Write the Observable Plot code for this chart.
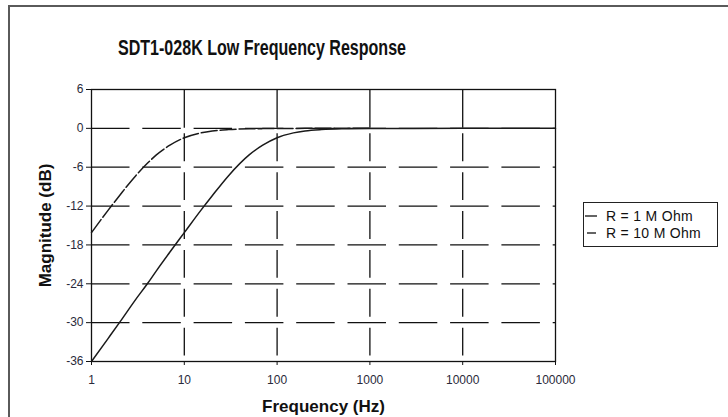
<!DOCTYPE html>
<html><head><meta charset="utf-8">
<script src="https://cdn.jsdelivr.net/npm/d3@7"></script>
<script src="https://cdn.jsdelivr.net/npm/@observablehq/plot@0.6"></script>
<style>
body{margin:0;background:#fff;font-family:"Liberation Sans",Arial,sans-serif;}
#wrap{position:relative;width:728px;height:417px;overflow:hidden;background:#fff;}
#frame{position:absolute;left:8px;top:5px;width:900px;height:600px;border-top:2px solid #5a5a5a;border-left:2px solid #5a5a5a;}
#chart{position:absolute;left:0;top:0;}
#title{position:absolute;left:0;top:35px;white-space:nowrap;font-weight:bold;font-size:22px;color:#111;transform-origin:0 0;}
#legend{position:absolute;left:583px;top:202px;width:133px;border:1.5px solid #222;background:#fff;padding:4px 0 4px 0;font-size:14px;letter-spacing:0.3px;color:#111;}
#legend .row{display:flex;align-items:center;height:17.5px;}
#legend svg{margin-left:1px;margin-right:9px;}
</style></head><body>
<div id="wrap"><div id="chart"></div><div id="frame"></div><div id="title"></div><div id="legend"></div></div>
<script>
const titleText = "SDT1-028K Low Frequency Response";
const xLabel = "Frequency (Hz)";
const yLabel = "Magnitude (dB)";
const seriesNames = ["R = 1 M Ohm", "R = 10 M Ohm"];
const xTicks = [1, 10, 100, 1000, 10000, 100000];
const yTicks = [6, 0, -6, -12, -18, -24, -30, -36];
const hGrid = [0, -6, -12, -18, -24, -30];
const vGrid = [10, 100, 1000, 10000];
// frequency points (Hz)
const freqHz = [1, 1.5, 2, 3, 4, 5, 7, 10, 15, 20, 30, 50, 70, 100, 150, 200, 300, 500, 1000];
// R = 10 M Ohm (left curve, dashed)
const r10M = [-16.1, -12.7, -10.4, -7.3, -5.4, -4.1, -2.6, -1.45, -0.7, -0.4, -0.19, -0.07, -0.04, -0.02, -0.01, 0, 0, 0, 0];
// R = 1 M Ohm (right curve, solid)
const r1M = [-36.0, -32.5, -30.0, -26.4, -24.0, -22.0, -19.1, -16.1, -12.7, -10.4, -7.3, -4.1, -2.6, -1.45, -0.7, -0.4, -0.19, -0.07, -0.02];
const r1MTailHz = [10000, 100000];
const r1MTail = [0, 0];

const W = 728, H = 417, mL = 91, mR = 728 - 555, mT = 89, mB = 417 - 361;
const yMin = -36, yMax = 6;
const step = (H - mT - mB) / (yMax - yMin) * 6; // px per 6 dB
const vGap = 11, vDash = step - vGap;

const d10 = freqHz.map((f, i) => ({f, db: r10M[i]}));
const d1 = freqHz.map((f, i) => ({f, db: r1M[i]})).concat(r1MTailHz.map((f, i) => ({f, db: r1MTail[i]})));

const ink = "#111";
const plot = Plot.plot({
  width: W, height: H,
  marginLeft: mL, marginRight: mR, marginTop: mT, marginBottom: mB,
  x: {type: "log", domain: [1, 100000]},
  y: {domain: [yMin, yMax]},
  style: {fontFamily: "'Liberation Sans', Arial, sans-serif", fontSize: "12px", color: "#2a2a3a", background: "transparent"},
  marks: [
    Plot.ruleY(hGrid, {y: d => d, x1: 1, x2: 100000, stroke: ink, strokeWidth: 1.3, strokeDasharray: "38.5,12.8"}),
    Plot.ruleX(vGrid, {x: d => d, y1: 6, y2: 0, stroke: ink, strokeWidth: 1.3}),
    Plot.ruleX(vGrid, {x: d => d, y1: 0, y2: -36, stroke: ink, strokeWidth: 1.3, strokeDasharray: `${vDash},${vGap}`, strokeDashoffset: vDash + vGap / 2}),
    Plot.frame({stroke: ink, strokeWidth: 1.3}),
    Plot.line(d10, {x: "f", y: "db", stroke: "#1a1a1a", strokeWidth: 1.5, strokeDasharray: "16,3", curve: "monotone-x"}),
    Plot.line(d1, {x: "f", y: "db", stroke: "#1a1a1a", strokeWidth: 1.5, curve: "monotone-x"}),
    Plot.axisX({ticks: xTicks, tickFormat: d3.format("d"), tickSize: 4, tickPadding: 10, label: null, stroke: ink}),
    Plot.axisY({ticks: yTicks, tickFormat: d => d, tickSize: 5, tickPadding: 3, label: null, stroke: ink}),
    Plot.text([xLabel], {text: d => d, frameAnchor: "bottom", lineAnchor: "middle", textAnchor: "middle", dy: 45, fontWeight: "bold", fontSize: 17, fill: "#111"}),
    Plot.text([yLabel], {text: d => d, frameAnchor: "left", lineAnchor: "middle", textAnchor: "middle", dx: -46, rotate: -90, fontWeight: "bold", fontSize: 17, fill: "#111"})
  ]
});
document.getElementById("chart").appendChild(plot);

// title: centered, compressed to target width
const t = document.getElementById("title");
t.textContent = titleText;
const targetW = 288, centerX = 262;
const w = t.getBoundingClientRect().width;
const sx = targetW / w;
t.style.transform = `scaleX(${sx})`;
t.style.left = (centerX - targetW / 2) + "px";

// legend
const leg = document.getElementById("legend");
const styles = [{dash: null}, {dash: "9,2"}];
seriesNames.forEach((name, i) => {
  const row = document.createElement("div");
  row.className = "row";
  const dash = styles[i].dash ? ` stroke-dasharray="${styles[i].dash}" stroke-dashoffset="-2"` : "";
  row.innerHTML = `<svg width="12" height="4"><line x1="0" y1="2" x2="12" y2="2" stroke="#222" stroke-width="1.4"${dash}/></svg><span>${name}</span>`;
  leg.appendChild(row);
});
</script>
</body></html>
